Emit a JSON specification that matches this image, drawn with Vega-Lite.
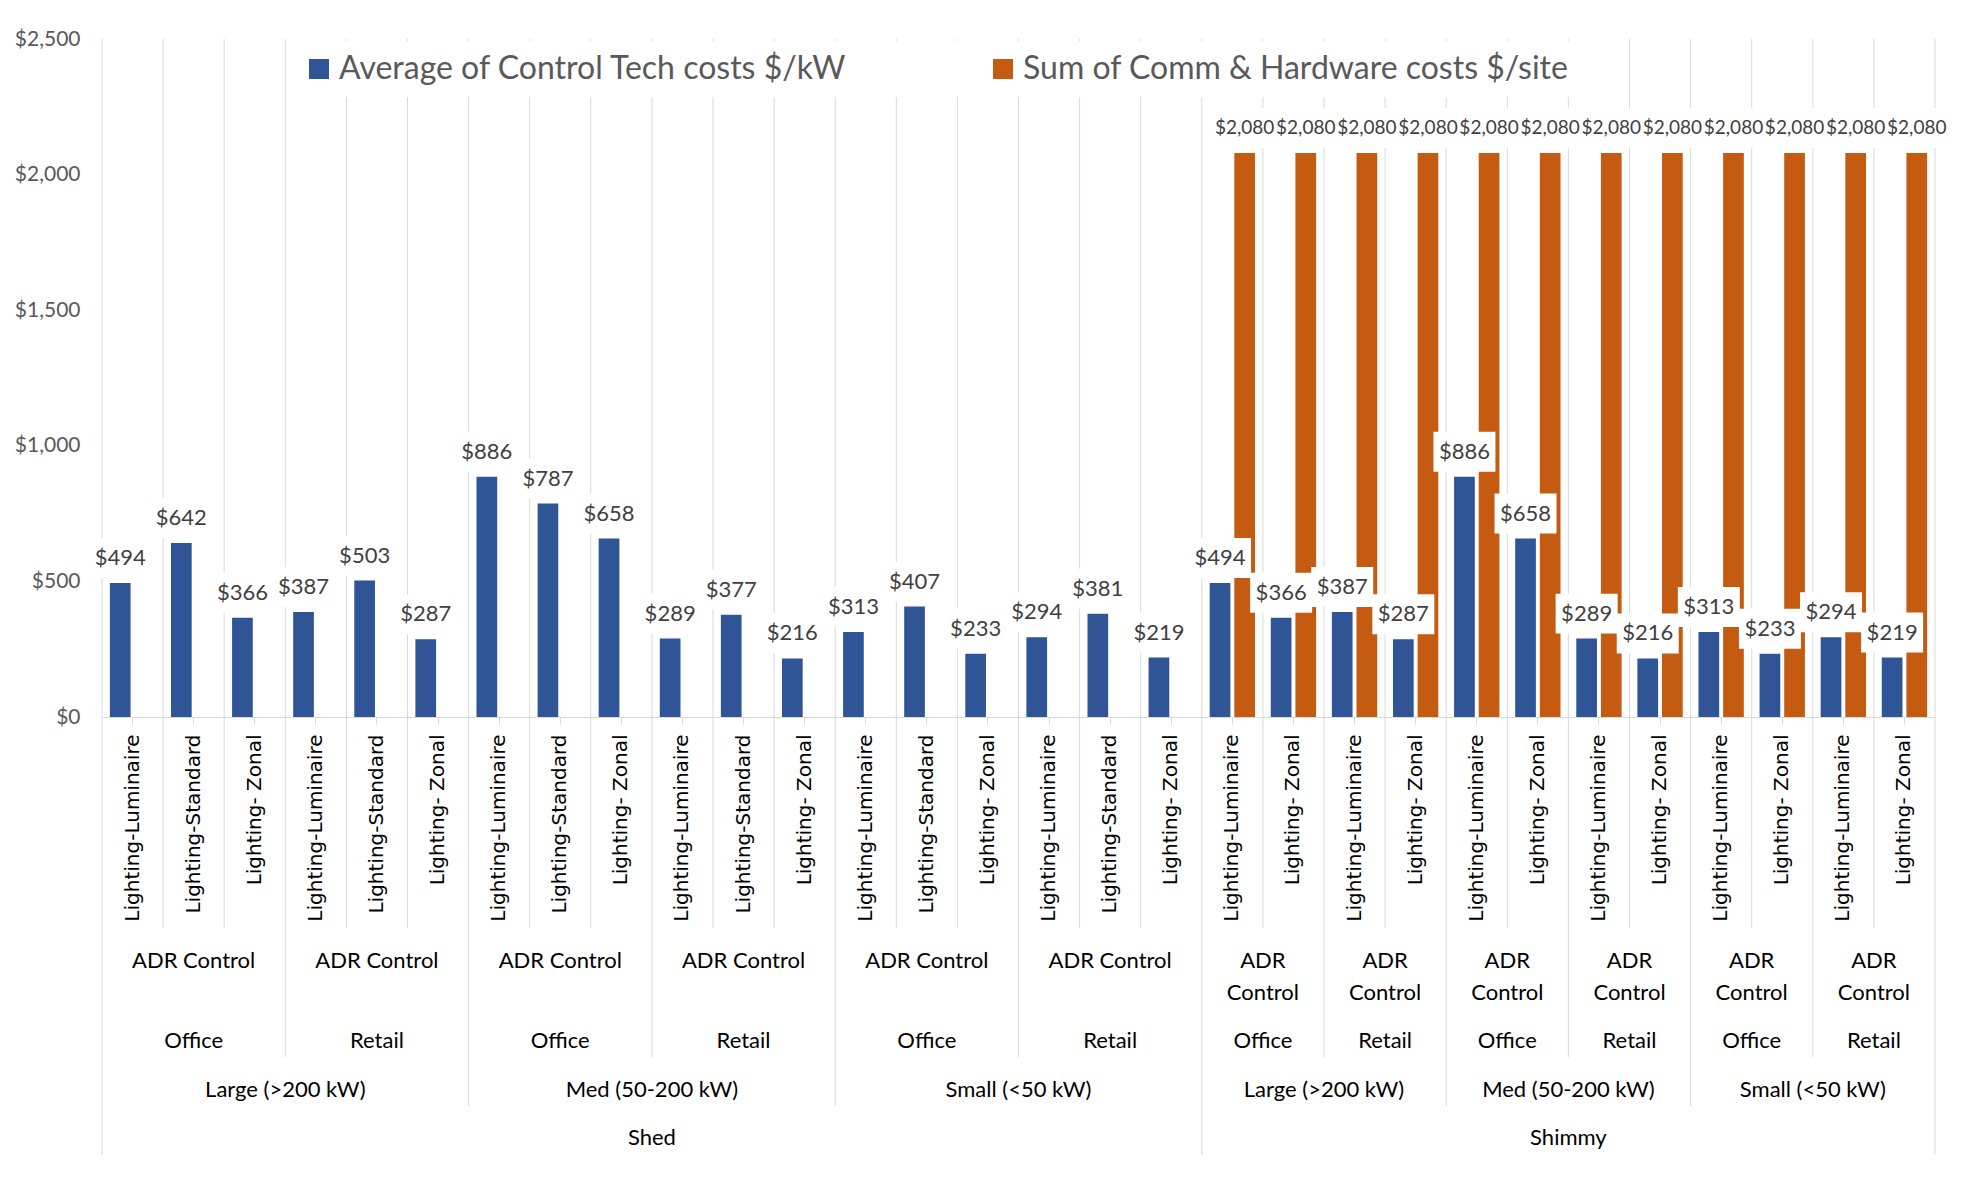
{
  "$schema": "https://vega.github.io/schema/vega-lite/v6.json",
  "background": "white",
  "padding": {"left": 14, "top": 28, "right": 5, "bottom": 5},
  "config": {"view": {"stroke": null}, "font": "Lato"},
  "datasets": {
    "costs": [
      {"cat": "01 Lighting-Luminaire", "phase": "Shed", "size": "Large (>200 kW)", "building": "Office", "control": "ADR Control", "tech": "Lighting-Luminaire", "series": "Average of Control Tech costs $/kW", "cost": 494},
      {"cat": "02 Lighting-Standard", "phase": "Shed", "size": "Large (>200 kW)", "building": "Office", "control": "ADR Control", "tech": "Lighting-Standard", "series": "Average of Control Tech costs $/kW", "cost": 642},
      {"cat": "03 Lighting- Zonal", "phase": "Shed", "size": "Large (>200 kW)", "building": "Office", "control": "ADR Control", "tech": "Lighting- Zonal", "series": "Average of Control Tech costs $/kW", "cost": 366},
      {"cat": "04 Lighting-Luminaire", "phase": "Shed", "size": "Large (>200 kW)", "building": "Retail", "control": "ADR Control", "tech": "Lighting-Luminaire", "series": "Average of Control Tech costs $/kW", "cost": 387},
      {"cat": "05 Lighting-Standard", "phase": "Shed", "size": "Large (>200 kW)", "building": "Retail", "control": "ADR Control", "tech": "Lighting-Standard", "series": "Average of Control Tech costs $/kW", "cost": 503},
      {"cat": "06 Lighting- Zonal", "phase": "Shed", "size": "Large (>200 kW)", "building": "Retail", "control": "ADR Control", "tech": "Lighting- Zonal", "series": "Average of Control Tech costs $/kW", "cost": 287},
      {"cat": "07 Lighting-Luminaire", "phase": "Shed", "size": "Med (50-200 kW)", "building": "Office", "control": "ADR Control", "tech": "Lighting-Luminaire", "series": "Average of Control Tech costs $/kW", "cost": 886},
      {"cat": "08 Lighting-Standard", "phase": "Shed", "size": "Med (50-200 kW)", "building": "Office", "control": "ADR Control", "tech": "Lighting-Standard", "series": "Average of Control Tech costs $/kW", "cost": 787},
      {"cat": "09 Lighting- Zonal", "phase": "Shed", "size": "Med (50-200 kW)", "building": "Office", "control": "ADR Control", "tech": "Lighting- Zonal", "series": "Average of Control Tech costs $/kW", "cost": 658},
      {"cat": "10 Lighting-Luminaire", "phase": "Shed", "size": "Med (50-200 kW)", "building": "Retail", "control": "ADR Control", "tech": "Lighting-Luminaire", "series": "Average of Control Tech costs $/kW", "cost": 289},
      {"cat": "11 Lighting-Standard", "phase": "Shed", "size": "Med (50-200 kW)", "building": "Retail", "control": "ADR Control", "tech": "Lighting-Standard", "series": "Average of Control Tech costs $/kW", "cost": 377},
      {"cat": "12 Lighting- Zonal", "phase": "Shed", "size": "Med (50-200 kW)", "building": "Retail", "control": "ADR Control", "tech": "Lighting- Zonal", "series": "Average of Control Tech costs $/kW", "cost": 216},
      {"cat": "13 Lighting-Luminaire", "phase": "Shed", "size": "Small (<50 kW)", "building": "Office", "control": "ADR Control", "tech": "Lighting-Luminaire", "series": "Average of Control Tech costs $/kW", "cost": 313},
      {"cat": "14 Lighting-Standard", "phase": "Shed", "size": "Small (<50 kW)", "building": "Office", "control": "ADR Control", "tech": "Lighting-Standard", "series": "Average of Control Tech costs $/kW", "cost": 407},
      {"cat": "15 Lighting- Zonal", "phase": "Shed", "size": "Small (<50 kW)", "building": "Office", "control": "ADR Control", "tech": "Lighting- Zonal", "series": "Average of Control Tech costs $/kW", "cost": 233},
      {"cat": "16 Lighting-Luminaire", "phase": "Shed", "size": "Small (<50 kW)", "building": "Retail", "control": "ADR Control", "tech": "Lighting-Luminaire", "series": "Average of Control Tech costs $/kW", "cost": 294},
      {"cat": "17 Lighting-Standard", "phase": "Shed", "size": "Small (<50 kW)", "building": "Retail", "control": "ADR Control", "tech": "Lighting-Standard", "series": "Average of Control Tech costs $/kW", "cost": 381},
      {"cat": "18 Lighting- Zonal", "phase": "Shed", "size": "Small (<50 kW)", "building": "Retail", "control": "ADR Control", "tech": "Lighting- Zonal", "series": "Average of Control Tech costs $/kW", "cost": 219},
      {"cat": "19 Lighting-Luminaire", "phase": "Shimmy", "size": "Large (>200 kW)", "building": "Office", "control": "ADR Control", "tech": "Lighting-Luminaire", "series": "Average of Control Tech costs $/kW", "cost": 494},
      {"cat": "20 Lighting- Zonal", "phase": "Shimmy", "size": "Large (>200 kW)", "building": "Office", "control": "ADR Control", "tech": "Lighting- Zonal", "series": "Average of Control Tech costs $/kW", "cost": 366},
      {"cat": "21 Lighting-Luminaire", "phase": "Shimmy", "size": "Large (>200 kW)", "building": "Retail", "control": "ADR Control", "tech": "Lighting-Luminaire", "series": "Average of Control Tech costs $/kW", "cost": 387},
      {"cat": "22 Lighting- Zonal", "phase": "Shimmy", "size": "Large (>200 kW)", "building": "Retail", "control": "ADR Control", "tech": "Lighting- Zonal", "series": "Average of Control Tech costs $/kW", "cost": 287},
      {"cat": "23 Lighting-Luminaire", "phase": "Shimmy", "size": "Med (50-200 kW)", "building": "Office", "control": "ADR Control", "tech": "Lighting-Luminaire", "series": "Average of Control Tech costs $/kW", "cost": 886},
      {"cat": "24 Lighting- Zonal", "phase": "Shimmy", "size": "Med (50-200 kW)", "building": "Office", "control": "ADR Control", "tech": "Lighting- Zonal", "series": "Average of Control Tech costs $/kW", "cost": 658},
      {"cat": "25 Lighting-Luminaire", "phase": "Shimmy", "size": "Med (50-200 kW)", "building": "Retail", "control": "ADR Control", "tech": "Lighting-Luminaire", "series": "Average of Control Tech costs $/kW", "cost": 289},
      {"cat": "26 Lighting- Zonal", "phase": "Shimmy", "size": "Med (50-200 kW)", "building": "Retail", "control": "ADR Control", "tech": "Lighting- Zonal", "series": "Average of Control Tech costs $/kW", "cost": 216},
      {"cat": "27 Lighting-Luminaire", "phase": "Shimmy", "size": "Small (<50 kW)", "building": "Office", "control": "ADR Control", "tech": "Lighting-Luminaire", "series": "Average of Control Tech costs $/kW", "cost": 313},
      {"cat": "28 Lighting- Zonal", "phase": "Shimmy", "size": "Small (<50 kW)", "building": "Office", "control": "ADR Control", "tech": "Lighting- Zonal", "series": "Average of Control Tech costs $/kW", "cost": 233},
      {"cat": "29 Lighting-Luminaire", "phase": "Shimmy", "size": "Small (<50 kW)", "building": "Retail", "control": "ADR Control", "tech": "Lighting-Luminaire", "series": "Average of Control Tech costs $/kW", "cost": 294},
      {"cat": "30 Lighting- Zonal", "phase": "Shimmy", "size": "Small (<50 kW)", "building": "Retail", "control": "ADR Control", "tech": "Lighting- Zonal", "series": "Average of Control Tech costs $/kW", "cost": 219},
      {"cat": "19 Lighting-Luminaire", "phase": "Shimmy", "size": "Large (>200 kW)", "building": "Office", "control": "ADR Control", "tech": "Lighting-Luminaire", "series": "Sum of Comm & Hardware costs $/site", "cost": 2080},
      {"cat": "20 Lighting- Zonal", "phase": "Shimmy", "size": "Large (>200 kW)", "building": "Office", "control": "ADR Control", "tech": "Lighting- Zonal", "series": "Sum of Comm & Hardware costs $/site", "cost": 2080},
      {"cat": "21 Lighting-Luminaire", "phase": "Shimmy", "size": "Large (>200 kW)", "building": "Retail", "control": "ADR Control", "tech": "Lighting-Luminaire", "series": "Sum of Comm & Hardware costs $/site", "cost": 2080},
      {"cat": "22 Lighting- Zonal", "phase": "Shimmy", "size": "Large (>200 kW)", "building": "Retail", "control": "ADR Control", "tech": "Lighting- Zonal", "series": "Sum of Comm & Hardware costs $/site", "cost": 2080},
      {"cat": "23 Lighting-Luminaire", "phase": "Shimmy", "size": "Med (50-200 kW)", "building": "Office", "control": "ADR Control", "tech": "Lighting-Luminaire", "series": "Sum of Comm & Hardware costs $/site", "cost": 2080},
      {"cat": "24 Lighting- Zonal", "phase": "Shimmy", "size": "Med (50-200 kW)", "building": "Office", "control": "ADR Control", "tech": "Lighting- Zonal", "series": "Sum of Comm & Hardware costs $/site", "cost": 2080},
      {"cat": "25 Lighting-Luminaire", "phase": "Shimmy", "size": "Med (50-200 kW)", "building": "Retail", "control": "ADR Control", "tech": "Lighting-Luminaire", "series": "Sum of Comm & Hardware costs $/site", "cost": 2080},
      {"cat": "26 Lighting- Zonal", "phase": "Shimmy", "size": "Med (50-200 kW)", "building": "Retail", "control": "ADR Control", "tech": "Lighting- Zonal", "series": "Sum of Comm & Hardware costs $/site", "cost": 2080},
      {"cat": "27 Lighting-Luminaire", "phase": "Shimmy", "size": "Small (<50 kW)", "building": "Office", "control": "ADR Control", "tech": "Lighting-Luminaire", "series": "Sum of Comm & Hardware costs $/site", "cost": 2080},
      {"cat": "28 Lighting- Zonal", "phase": "Shimmy", "size": "Small (<50 kW)", "building": "Office", "control": "ADR Control", "tech": "Lighting- Zonal", "series": "Sum of Comm & Hardware costs $/site", "cost": 2080},
      {"cat": "29 Lighting-Luminaire", "phase": "Shimmy", "size": "Small (<50 kW)", "building": "Retail", "control": "ADR Control", "tech": "Lighting-Luminaire", "series": "Sum of Comm & Hardware costs $/site", "cost": 2080},
      {"cat": "30 Lighting- Zonal", "phase": "Shimmy", "size": "Small (<50 kW)", "building": "Retail", "control": "ADR Control", "tech": "Lighting- Zonal", "series": "Sum of Comm & Hardware costs $/site", "cost": 2080}
    ]
  },
  "spacing": 0,
  "bounds": "flush",
  "resolve": {"scale": {"x": "shared"}, "legend": {"color": "independent"}},
  "vconcat": [
    {
      "width": 1833,
      "height": 678,
      "data": {"name": "costs"},
      "layer": [
        {
          "transform": [{"aggregate": [{"op": "count", "as": "n"}], "groupby": ["cat"]}],
          "mark": {"type": "rule", "color": "#D9D9D9", "strokeWidth": 1},
          "encoding": {"x": {"field": "cat", "type": "nominal", "bandPosition": 0, "title": null}}
        },
        {
          "transform": [{"aggregate": [{"op": "max", "field": "cat", "as": "last"}]}],
          "mark": {"type": "rule", "color": "#D9D9D9", "strokeWidth": 1},
          "encoding": {"x": {"field": "last", "type": "nominal", "bandPosition": 1, "title": null}}
        },
        {
          "mark": {"type": "bar"},
          "encoding": {
            "x": {
              "field": "cat", "type": "nominal",
              "scale": {"paddingInner": 0, "paddingOuter": 0},
              "axis": {
                "title": null, "labelExpr": "substring(datum.label, 3)", "labelAngle": -90,
                "labelFont": "DejaVu Sans", "labelFontSize": 20, "labelColor": "#000000",
                "labelPadding": 10, "ticks": true, "tickSize": 7, "tickColor": "#D9D9D9",
                "domainColor": "#D9D9D9", "grid": false, "labelLimit": 400, "labelOverlap": false
              }
            },
            "xOffset": {
              "field": "series", "type": "nominal",
              "scale": {"domain": ["Average of Control Tech costs $/kW", "Sum of Comm & Hardware costs $/site"], "paddingInner": 0.16, "paddingOuter": 0.32}
            },
            "y": {
              "field": "cost", "type": "quantitative",
              "scale": {"domain": [0, 2500], "nice": false},
              "axis": {
                "title": null, "values": [0, 500, 1000, 1500, 2000, 2500], "format": "$,.0f",
                "domain": false, "ticks": false, "grid": false,
                "labelFont": "Lato", "labelFontSize": 21, "labelColor": "#595959", "labelPadding": 22
              }
            },
            "color": {
              "field": "series", "type": "nominal",
              "scale": {"domain": ["Average of Control Tech costs $/kW", "Sum of Comm & Hardware costs $/site"], "range": ["#2F5597", "#C55A11"]},
              "legend": {
                "orient": "none", "legendX": 189, "legendY": 2, "direction": "horizontal", "columns": 2,
                "title": null, "symbolType": "square", "symbolSize": 400, "symbolStrokeWidth": 0,
                "labelFont": "Lato", "labelFontSize": 32, "labelColor": "#595959", "labelLimit": 900,
                "labelOffset": 4, "columnPadding": 140, "fillColor": "white", "padding": 12
              }
            }
          }
        },
        {
          "transform": [{"filter": "datum.series === 'Average of Control Tech costs $/kW'"}],
          "mark": {"type": "point", "shape": "M-1,-0.645H1V0.645H-1Z", "size": 3844, "filled": true, "color": "white", "opacity": 1, "strokeWidth": 0, "yOffset": -25},
          "encoding": {
            "x": {"field": "cat", "type": "nominal", "title": null},
            "xOffset": {"field": "series", "type": "nominal"},
            "y": {"field": "cost", "type": "quantitative", "title": null}
          }
        },
        {
          "transform": [{"filter": "datum.series === 'Average of Control Tech costs $/kW'"}],
          "mark": {"type": "text", "font": "Lato", "fontSize": 22, "color": "#404040", "baseline": "middle", "yOffset": -25},
          "encoding": {
            "x": {"field": "cat", "type": "nominal", "title": null},
            "xOffset": {"field": "series", "type": "nominal"},
            "y": {"field": "cost", "type": "quantitative", "title": null},
            "text": {"field": "cost", "type": "quantitative", "format": "$,.0f"}
          }
        },
        {
          "transform": [{"filter": "datum.series === 'Sum of Comm & Hardware costs $/site'"}],
          "mark": {"type": "point", "shape": "M-1,-0.656H1V0.656H-1Z", "size": 3721, "filled": true, "color": "white", "opacity": 1, "strokeWidth": 0, "yOffset": -25},
          "encoding": {
            "x": {"field": "cat", "type": "nominal", "title": null},
            "xOffset": {"field": "series", "type": "nominal"},
            "y": {"field": "cost", "type": "quantitative", "title": null}
          }
        },
        {
          "transform": [{"filter": "datum.series === 'Sum of Comm & Hardware costs $/site'"}],
          "mark": {"type": "text", "font": "Lato", "fontSize": 19, "color": "#404040", "baseline": "middle", "yOffset": -25},
          "encoding": {
            "x": {"field": "cat", "type": "nominal", "title": null},
            "xOffset": {"field": "series", "type": "nominal"},
            "y": {"field": "cost", "type": "quantitative", "title": null},
            "text": {"field": "cost", "type": "quantitative", "format": "$,.0f"}
          }
        }
      ]
    },
    {
      "width": 1833,
      "height": 211,
      "data": {"name": "costs"},
      "layer": [
        {
          "transform": [{"aggregate": [{"op": "count", "as": "n"}], "groupby": ["cat"]}],
          "mark": {"type": "rule", "color": "#D9D9D9", "strokeWidth": 1},
          "encoding": {"x": {"field": "cat", "type": "nominal", "bandPosition": 0, "axis": null}}
        },
        {
          "transform": [{"aggregate": [{"op": "max", "field": "cat", "as": "last"}]}],
          "mark": {"type": "rule", "color": "#D9D9D9", "strokeWidth": 1},
          "encoding": {"x": {"field": "last", "type": "nominal", "bandPosition": 1, "axis": null}}
        }
      ]
    },
    {
      "width": 1833,
      "height": 129,
      "data": {"name": "costs"},
      "layer": [
        {
          "transform": [{"aggregate": [{"op": "min", "field": "cat", "as": "start"}], "groupby": ["phase", "size", "building"]}],
          "mark": {"type": "rule", "color": "#D9D9D9", "strokeWidth": 1},
          "encoding": {"x": {"field": "start", "type": "nominal", "bandPosition": 0, "axis": null}}
        },
        {
          "transform": [{"aggregate": [{"op": "max", "field": "cat", "as": "last"}]}],
          "mark": {"type": "rule", "color": "#D9D9D9", "strokeWidth": 1},
          "encoding": {"x": {"field": "last", "type": "nominal", "bandPosition": 1, "axis": null}}
        },
        {
          "transform": [{"filter": "datum.phase === 'Shed' && datum.tech === 'Lighting-Standard'"}],
          "mark": {"type": "text", "font": "Lato", "fontSize": 22, "color": "#000000", "baseline": "top", "dy": -42},
          "encoding": {
            "x": {"field": "cat", "type": "nominal", "bandPosition": 0.5, "axis": null},
            "text": {"field": "control", "type": "nominal"}
          }
        },
        {
          "transform": [{"filter": "datum.phase === 'Shimmy' && datum.tech === 'Lighting-Luminaire' && datum.series === 'Average of Control Tech costs $/kW'"}],
          "mark": {"type": "text", "font": "Lato", "fontSize": 22, "color": "#000000", "baseline": "top", "dy": -42, "lineBreak": " ", "lineHeight": 32},
          "encoding": {
            "x": {"field": "cat", "type": "nominal", "bandPosition": 1, "axis": null},
            "text": {"field": "control", "type": "nominal"}
          }
        },
        {
          "transform": [{"filter": "datum.phase === 'Shed' && datum.tech === 'Lighting-Standard'"}],
          "mark": {"type": "text", "font": "Lato", "fontSize": 22, "color": "#000000", "baseline": "middle", "dy": 48},
          "encoding": {
            "x": {"field": "cat", "type": "nominal", "bandPosition": 0.5, "axis": null},
            "text": {"field": "building", "type": "nominal"}
          }
        },
        {
          "transform": [{"filter": "datum.phase === 'Shimmy' && datum.tech === 'Lighting-Luminaire' && datum.series === 'Average of Control Tech costs $/kW'"}],
          "mark": {"type": "text", "font": "Lato", "fontSize": 22, "color": "#000000", "baseline": "middle", "dy": 48},
          "encoding": {
            "x": {"field": "cat", "type": "nominal", "bandPosition": 1, "axis": null},
            "text": {"field": "building", "type": "nominal"}
          }
        }
      ]
    },
    {
      "width": 1833,
      "height": 49,
      "data": {"name": "costs"},
      "layer": [
        {
          "transform": [{"aggregate": [{"op": "min", "field": "cat", "as": "start"}], "groupby": ["phase", "size"]}],
          "mark": {"type": "rule", "color": "#D9D9D9", "strokeWidth": 1},
          "encoding": {"x": {"field": "start", "type": "nominal", "bandPosition": 0, "axis": null}}
        },
        {
          "transform": [{"aggregate": [{"op": "max", "field": "cat", "as": "last"}]}],
          "mark": {"type": "rule", "color": "#D9D9D9", "strokeWidth": 1},
          "encoding": {"x": {"field": "last", "type": "nominal", "bandPosition": 1, "axis": null}}
        },
        {
          "transform": [{"filter": "datum.building === 'Office' && datum.tech === 'Lighting- Zonal' && datum.series === 'Average of Control Tech costs $/kW'"}],
          "mark": {"type": "text", "font": "Lato", "fontSize": 22, "color": "#000000", "baseline": "middle", "dy": 8},
          "encoding": {
            "x": {"field": "cat", "type": "nominal", "bandPosition": 1, "axis": null},
            "text": {"field": "size", "type": "nominal"}
          }
        }
      ]
    },
    {
      "width": 1833,
      "height": 49,
      "data": {"name": "costs"},
      "layer": [
        {
          "transform": [{"aggregate": [{"op": "min", "field": "cat", "as": "start"}], "groupby": ["phase"]}],
          "mark": {"type": "rule", "color": "#D9D9D9", "strokeWidth": 1},
          "encoding": {"x": {"field": "start", "type": "nominal", "bandPosition": 0, "axis": null}}
        },
        {
          "transform": [{"aggregate": [{"op": "max", "field": "cat", "as": "last"}]}],
          "mark": {"type": "rule", "color": "#D9D9D9", "strokeWidth": 1},
          "encoding": {"x": {"field": "last", "type": "nominal", "bandPosition": 1, "axis": null}}
        },
        {
          "transform": [{"filter": "datum.size === 'Med (50-200 kW)' && datum.building === 'Office' && datum.tech === 'Lighting- Zonal' && datum.series === 'Average of Control Tech costs $/kW'"}],
          "mark": {"type": "text", "font": "Lato", "fontSize": 22, "color": "#000000", "baseline": "middle", "dy": 7},
          "encoding": {
            "x": {"field": "cat", "type": "nominal", "bandPosition": 1, "axis": null},
            "text": {"field": "phase", "type": "nominal"}
          }
        }
      ]
    }
  ]
}
